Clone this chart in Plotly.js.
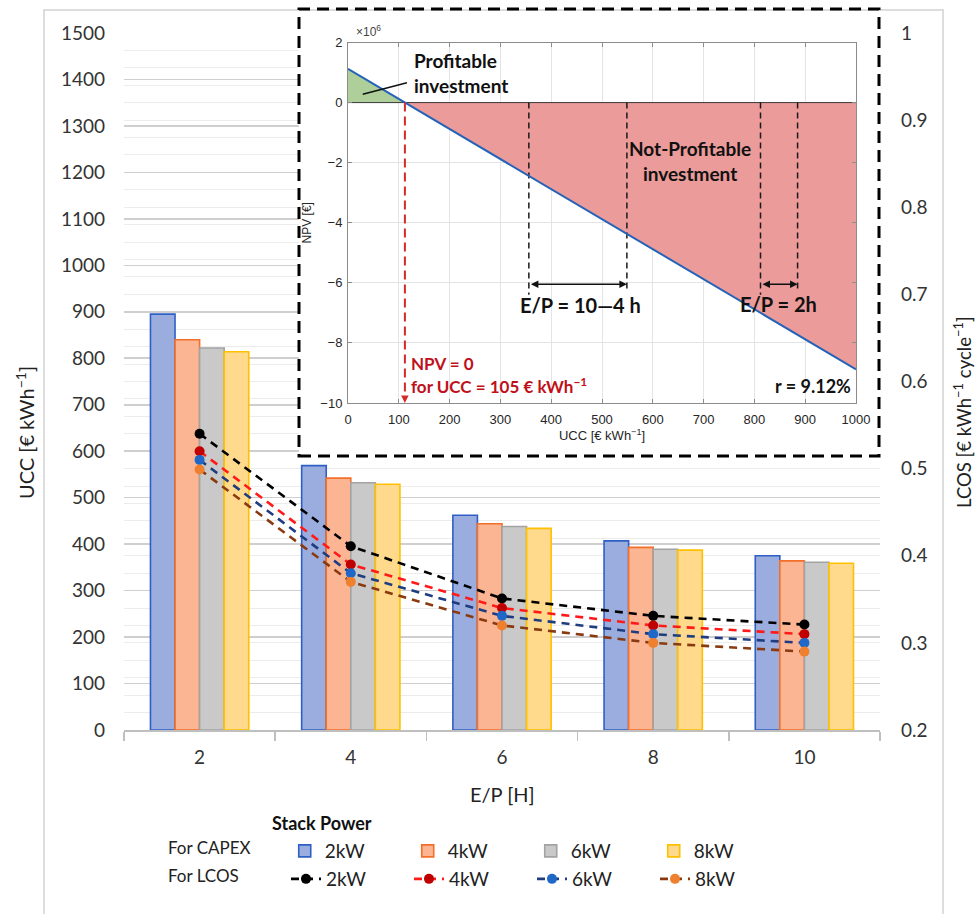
<!DOCTYPE html>
<html><head><meta charset="utf-8">
<script src="https://cdn.plot.ly/plotly-3.0.1.min.js"></script>
<style>html,body{margin:0;padding:0;background:#fff}</style>
</head><body><div id="chart" style="width:975px;height:914px"></div>
<script>
// ---------- data ----------
const epCategories = ['2', '4', '6', '8', '10'];
const stackPowers = ['2kW', '4kW', '6kW', '8kW'];
const capex2kW = [895, 569, 462, 407, 375];
const capex4kW = [840, 542, 444, 393, 364];
const capex6kW = [822, 532, 438, 389, 361];
const capex8kW = [814, 529, 434, 387, 359];
const lcos2kW = [0.540, 0.411, 0.351, 0.331, 0.321];
const lcos4kW = [0.520, 0.390, 0.340, 0.320, 0.310];
const lcos6kW = [0.510, 0.380, 0.331, 0.310, 0.300];
const lcos8kW = [0.499, 0.370, 0.320, 0.300, 0.290];
const insetUcc = [0, 1000];
const insetNpv = [1.12, -8.88];          // x 10^6 EUR
const epRange10to4 = [356, 549];         // UCC span for E/P = 10-4 h
const epRange2 = [812, 885];             // UCC span for E/P = 2 h

// ---------- styles ----------
const barFill = ['#9badde', '#fbb593', '#c9c9c9', '#ffd98c'];
const barEdge = ['#2f5fc4', '#f36f2a', '#a3a3a3', '#ffc000'];
const lineCol = ['#000000', '#ff1a1a', '#1f3c80', '#8a3a10'];
const markCol = ['#000000', '#c00000', '#2068c8', '#ee8030'];
const F = 'Lato, "Open Sans", sans-serif';
const M = '"Liberation Sans", Arial, sans-serif';

const capex = [capex2kW, capex4kW, capex6kW, capex8kW];
const lcos = [lcos2kW, lcos4kW, lcos6kW, lcos8kW];

const traces = [];
capex.forEach((vals, i) => traces.push({
  type: 'bar', x: epCategories, y: vals, name: stackPowers[i],
  xaxis: 'x', yaxis: 'y', legend: 'legend',
  marker: {color: barFill[i], line: {color: barEdge[i], width: 1.6}},
  hoverinfo: 'skip'
}));
lcos.forEach((vals, i) => traces.push({
  type: 'scatter', mode: 'lines+markers', x: epCategories, y: vals, name: stackPowers[i],
  xaxis: 'x', yaxis: 'y2', legend: 'legend2',
  line: {color: lineCol[i], width: 2.6, dash: '8px,6px'},
  marker: {color: markCol[i], size: 10},
  hoverinfo: 'skip'
}));

// inset
const xc = insetUcc[0] + (insetUcc[1] - insetUcc[0]) * insetNpv[0] / (insetNpv[0] - insetNpv[1]);
traces.push({type: 'scatter', mode: 'lines', xaxis: 'x2', yaxis: 'y3', showlegend: false,
  x: [insetUcc[0], insetUcc[0], xc], y: [0, insetNpv[0], 0], fill: 'toself',
  fillcolor: '#aecf9a', line: {width: 0}, hoverinfo: 'skip'});
traces.push({type: 'scatter', mode: 'lines', xaxis: 'x2', yaxis: 'y3', showlegend: false,
  x: [xc, insetUcc[1], insetUcc[1]], y: [0, 0, insetNpv[1]], fill: 'toself',
  fillcolor: '#eb9b99', line: {width: 0}, hoverinfo: 'skip'});
traces.push({type: 'scatter', mode: 'lines', xaxis: 'x2', yaxis: 'y3', showlegend: false,
  x: [insetUcc[0], insetUcc[1]], y: [0, 0], line: {color: '#3a3a3a', width: 1}, hoverinfo: 'skip'});
traces.push({type: 'scatter', mode: 'lines', xaxis: 'x2', yaxis: 'y3', showlegend: false,
  x: [epRange10to4[0], epRange10to4[0], null, epRange10to4[1], epRange10to4[1], null,
      epRange2[0], epRange2[0], null, epRange2[1], epRange2[1]],
  y: [0, -6.4, null, 0, -6.2, null, 0, -6.4, null, 0, -6.3],
  line: {color: '#1a1a1a', width: 1.5, dash: '6px,4px'}, hoverinfo: 'skip'});
traces.push({type: 'scatter', mode: 'lines', xaxis: 'x2', yaxis: 'y3', showlegend: false,
  x: insetUcc, y: insetNpv, line: {color: '#2563b8', width: 2}, hoverinfo: 'skip'});
traces.push({type: 'scatter', mode: 'lines', xaxis: 'x2', yaxis: 'y3', showlegend: false,
  x: [xc, xc], y: [0, -9.75], line: {color: '#d42a2a', width: 2, dash: '9px,5px'}, hoverinfo: 'skip'});

// pixel -> paper helpers (plot area 124..880 x 33..730)
const px = v => (v - 124) / 756;
const py = v => (730 - v) / 697;

const ins = (o) => Object.assign({xref: 'x2', yref: 'y3', showarrow: false, yanchor: 'middle'}, o);
const pap = (o) => Object.assign({xref: 'paper', yref: 'paper', showarrow: false,
  xanchor: 'center', yanchor: 'middle'}, o);
const arrow = (o) => Object.assign({xref: 'x2', yref: 'y3', axref: 'x2', ayref: 'y3',
  text: ' ', showarrow: true, arrowhead: 2, arrowsize: 1, arrowwidth: 1.5,
  standoff: 0, startstandoff: 0, font: {size: 2}}, o);

const annotations = [
  pap({x: px(25), y: py(433), textangle: -90,
   text: 'UCC [€ kWh<sup>−1</sup>]', font: {family: F, size: 20, color: '#222'}}),
  pap({x: px(963), y: py(412), textangle: -90,
   text: 'LCOS [€ kWh<sup>−1</sup> cycle<sup>−1</sup>]', font: {family: F, size: 18.5, color: '#222'}}),
  pap({x: px(502), y: py(794), text: 'E/P [H]', font: {family: F, size: 20, color: '#222'}}),
  pap({x: px(322), y: py(823), text: '<b>Stack Power</b>', font: {family: F, size: 18, color: '#111'}}),
  pap({x: px(354), y: py(31), xanchor: 'left',
   text: '×10<sup>6</sup>', font: {family: M, size: 12, color: '#444'}}),
  ins({x: 126, y: 0.985, xanchor: 'left', align: 'left', text: '<b>Profitable<br>investment</b>',
   font: {family: F, size: 19, color: '#111'}}),
  ins({x: 673, y: -1.93, text: '<b>Not-Profitable<br>investment</b>',
   font: {family: F, size: 19, color: '#111'}}),
  ins({x: 457, y: -6.74, text: '<b>E/P = 10—4 h</b>', font: {family: F, size: 20, color: '#111'}}),
  ins({x: 848, y: -6.7, text: '<b>E/P = 2h</b>', font: {family: F, size: 20, color: '#111'}}),
  ins({x: 120, y: -8.67, xanchor: 'left', text: '<b>NPV = 0</b>', font: {family: F, size: 17, color: '#c0101a'}}),
  ins({x: 120, y: -9.43, xanchor: 'left', text: '<b>for UCC = 105 € kWh<sup>−1</sup></b>', font: {family: F, size: 17, color: '#c0101a'}}),
  ins({x: 994, y: -9.43, xanchor: 'right', text: '<b>r = 9.12%</b>', font: {family: F, size: 18, color: '#111'}}),
  arrow({x: epRange10to4[1], y: -6.05, ax: epRange10to4[0], ay: -6.05, arrowside: 'end+start', arrowcolor: '#111'}),
  arrow({x: epRange2[1], y: -6.05, ax: epRange2[0], ay: -6.05, arrowside: 'end+start', arrowcolor: '#111'}),
  arrow({x: xc, y: -10, ax: xc, ay: -9.7, arrowcolor: '#d42a2a'})
];

const shapes = [
  // outer frame
  {type: 'rect', xref: 'paper', yref: 'paper', x0: px(44), x1: px(943), y0: py(930), y1: py(10),
   line: {color: '#d2d2d2', width: 1.5}, layer: 'below'},
  // white backdrop of inset (above main grid)
  {type: 'rect', xref: 'x', yref: 'y', x0: 0.657, x1: 4.7, y0: 589.7, y1: 1700,
   fillcolor: '#ffffff', line: {width: 0}, layer: 'between'},
  // dashed inset border
  {type: 'rect', xref: 'paper', yref: 'paper', x0: px(299), x1: px(879), y0: py(456), y1: py(9),
   line: {color: '#000', width: 3, dash: '12px,7px'}, layer: 'above'},
  // leader line for "Profitable investment"
  {type: 'line', xref: 'x2', yref: 'y3', x0: 29, y0: 0.28, x1: 116, y1: 0.66,
   line: {color: '#111', width: 1.5}, layer: 'above'}
];

const inAx = {
  showgrid: true, gridcolor: '#e4e4e4', gridwidth: 1, showline: true, linecolor: '#8c8c8c',
  linewidth: 1, mirror: 'ticks', ticks: 'inside', ticklen: 4, tickcolor: '#8c8c8c',
  zeroline: false, tickfont: {family: M, size: 13, color: '#262626'}
};

const legendBase = {
  orientation: 'h', x: px(166), xanchor: 'left', yanchor: 'middle',
  font: {family: F, size: 19, color: '#222'}, entrywidth: 78, entrywidthmode: 'pixels',
  bgcolor: 'rgba(0,0,0,0)', traceorder: 'normal'
};
const nb = n => '&nbsp;'.repeat(n);

const layout = {
  width: 975, height: 914,
  margin: {l: 124, r: 95, t: 33, b: 184, autoexpand: false},
  paper_bgcolor: '#ffffff', plot_bgcolor: '#ffffff',
  font: {family: F, color: '#333'},
  barmode: 'group', bargap: 0.35, bargroupgap: 0,
  hovermode: false,
  xaxis: {type: 'category', range: [-0.5, 4.5], domain: [0, 1], anchor: 'y',
    showline: true, linecolor: '#bfbfbf', linewidth: 1.5, ticks: 'outside', tickson: 'boundaries',
    ticklen: 9, tickcolor: '#bfbfbf', tickwidth: 1.5, showgrid: false, zeroline: false,
    tickfont: {family: F, size: 19, color: '#333'}, ticklabelstandoff: 10},
  yaxis: {range: [0, 1500], dtick: 100, domain: [0, 1], anchor: 'x',
    showgrid: true, gridcolor: '#cfcfcf', gridwidth: 1.6, showline: false, zeroline: false,
    ticks: '', tickfont: {family: F, size: 19, color: '#333'}, ticklabelstandoff: 18},
  yaxis2: {overlaying: 'y', side: 'right', anchor: 'x', range: [0.2, 1.0], dtick: 0.1,
    showgrid: true, gridcolor: '#ececec', gridwidth: 1, zeroline: false, showline: false,
    minor: {dtick: 0.02, showgrid: true, gridcolor: '#ececec', gridwidth: 1},
    ticks: '', tickfont: {family: F, size: 19, color: '#333'}, ticklabelstandoff: 20},
  xaxis2: Object.assign({}, inAx, {domain: [px(348), px(856)], anchor: 'y3', range: [0, 1000], dtick: 100,
    ticklabelstandoff: 4,
    title: {text: 'UCC [€ kWh<sup>−1</sup>]', font: {family: M, size: 13, color: '#262626'}, standoff: 3}}),
  yaxis3: Object.assign({}, inAx, {domain: [py(403), py(42.5)], anchor: 'x2', range: [-10, 2], dtick: 2,
    ticklabelstandoff: 2,
    title: {text: 'NPV [€]', font: {family: M, size: 12, color: '#262626'}, standoff: 6}}),
  legend: Object.assign({}, legendBase, {y: py(851),
    title: {text: 'For CAPEX' + nb(6), side: 'left', font: {family: F, size: 17, color: '#222'}}}),
  legend2: Object.assign({}, legendBase, {y: py(879),
    title: {text: 'For LCOS' + nb(9), side: 'left', font: {family: F, size: 17, color: '#222'}}}),
  annotations: annotations,
  shapes: shapes
};

Plotly.newPlot('chart', traces, layout, {staticPlot: true, displayModeBar: false});
</script>
</body></html>
